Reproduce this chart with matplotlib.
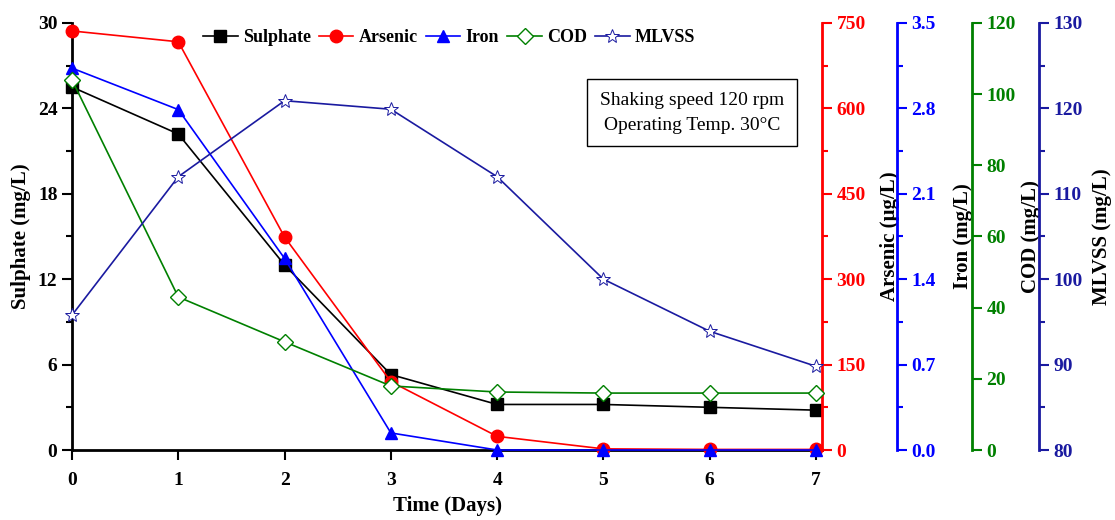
import numpy as np
import matplotlib.pyplot as plt
from matplotlib.ticker import MultipleLocator

plt.rcParams['font.family'] = ['Liberation Serif', 'DejaVu Serif']
plt.rcParams['font.weight'] = 'bold'
plt.rcParams['font.size'] = 14

days = [0, 1, 2, 3, 4, 5, 6, 7]
sulphate = [25.5, 22.2, 13.0, 5.3, 3.2, 3.2, 3.0, 2.8]
arsenic = [736, 717, 374, 120, 24, 2, 1, 1]
iron = [3.13, 2.79, 1.57, 0.14, 0.0, 0.0, 0.0, 0.0]
cod = [104, 43, 30.4, 18, 16.3, 16, 16, 16]
mlvss = [95.8, 112, 120.9, 119.9, 112, 100, 93.9, 89.8]

c_as = '#ff0000'
c_fe = '#0000ff'
c_cod = '#008000'
c_ml = '#1a1aa0'

fig = plt.figure(figsize=(11.15, 5.2), dpi=100)
ax = fig.add_axes([0.0646, 0.1346, 0.6726, 0.8212])

ax2 = ax.twinx()
ax3 = ax.twinx()
ax4 = ax.twinx()
ax5 = ax.twinx()

ax3.spines['right'].set_position(('axes', 1.1))
ax4.spines['right'].set_position(('axes', 1.2))
ax5.spines['right'].set_position(('axes', 1.289))

l1, = ax.plot(days, sulphate, '-', color='black', marker='s', ms=8, lw=1.2,
              label='Sulphate', clip_on=False)
l2, = ax2.plot(days, arsenic, '-', color=c_as, marker='o', ms=9, lw=1.2,
               label='Arsenic', clip_on=False)
l3, = ax3.plot(days, iron, '-', color=c_fe, marker='^', ms=9, lw=1.2,
               label='Iron', clip_on=False)
l4, = ax4.plot(days, cod, '-', color=c_cod, marker='D', ms=8, lw=1.2,
               mfc='white', mew=1.0, label='COD', clip_on=False)
l5, = ax5.plot(days, mlvss, '-', color=c_ml, marker='*', ms=10, lw=1.2,
               mfc='white', mew=0.7, label='MLVSS', clip_on=False)

xmax = 7 * 750 / 744
for a in [ax, ax2, ax3, ax4, ax5]:
    a.set_xlim(0, xmax)
    a.spines['top'].set_visible(False)
    a.tick_params(which='major', length=7, width=1.5, direction='out')
    a.tick_params(which='minor', length=4, width=1.5, direction='out')

ax.set_ylim(0, 30)
ax.yaxis.set_major_locator(MultipleLocator(6))
ax.yaxis.set_minor_locator(MultipleLocator(3))
ax.set_xticks(days)
ax.tick_params(axis='x', pad=9)
ax.spines['left'].set_linewidth(2)
ax.spines['bottom'].set_linewidth(2)
ax.spines['right'].set_visible(False)
ax.set_xlabel('Time (Days)', fontsize=15, fontweight='bold', labelpad=5)
ax.set_ylabel('Sulphate (mg/L)', fontsize=15, fontweight='bold', labelpad=5)

axes_info = [
    (ax2, c_as, (0, 750), 150, 75, 'Arsenic (\u00b5g/L)', '%d', 10),
    (ax3, c_fe, (0, 3.5), 0.7, 0.35, 'Iron (mg/L)', '%.1f', 12),
    (ax4, c_cod, (0, 120), 20, None, 'COD (mg/L)', '%d', 4),
    (ax5, c_ml, (80, 130), 10, 5, 'MLVSS (mg/L)', '%d', 7),
]
for a, col, lim, major, minor, lab, fmt, lp in axes_info:
    a.set_ylim(*lim)
    a.yaxis.set_major_locator(MultipleLocator(major))
    if minor:
        a.yaxis.set_minor_locator(MultipleLocator(minor))
    a.yaxis.set_major_formatter(plt.FormatStrFormatter(fmt))
    a.spines['left'].set_visible(False)
    a.spines['bottom'].set_visible(False)
    a.spines['right'].set_color(col)
    a.spines['right'].set_linewidth(2)
    a.tick_params(axis='y', which='both', colors=col)
    a.set_ylabel(lab, fontsize=15, fontweight='bold', color='black', labelpad=lp)

handles = [l1, l2, l3, l4, l5]
ax5.legend(handles, [h.get_label() for h in handles], loc='center',
           bbox_to_anchor=(0.503, 0.965), ncol=5, frameon=False,
           handlelength=1.9, handletextpad=0.3, columnspacing=0.45,
           prop={'weight': 'bold', 'size': 13})

ax5.text(0.827, 0.79, 'Shaking speed 120 rpm\nOperating Temp. 30\u00b0C',
         transform=ax.transAxes, ha='center', va='center', fontsize=14,
         fontweight='normal', linespacing=1.6,
         bbox=dict(boxstyle='square,pad=0.65', fc='white', ec='black', lw=1))

fig.savefig('out.png', dpi=100)
